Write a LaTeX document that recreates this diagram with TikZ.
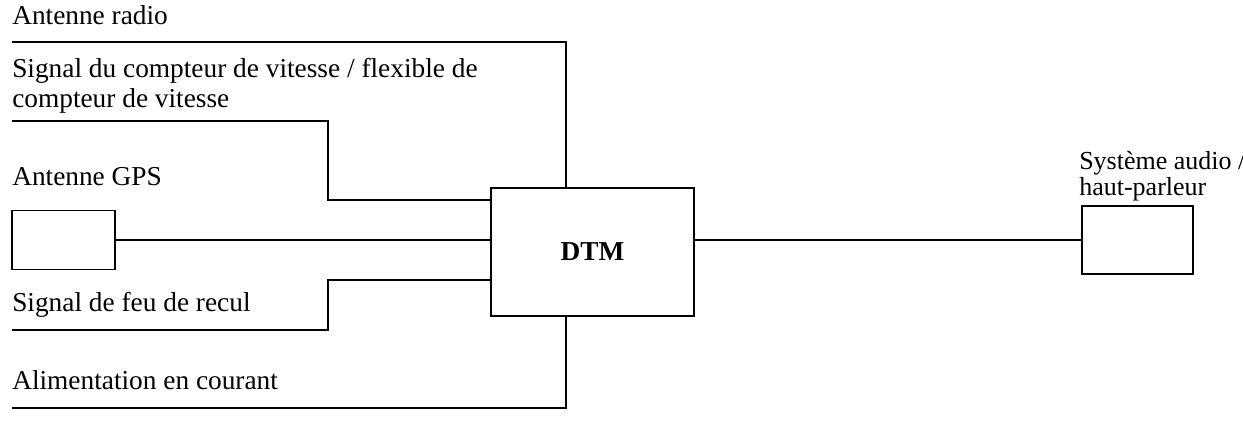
\documentclass[tikz,border=0pt]{standalone}
\usepackage{fontspec}
\setmainfont{Liberation Serif}
\begin{document}
\begin{tikzpicture}[x=0.75pt,y=-0.75pt,
  lbl/.style={anchor=base west,inner sep=0pt,font=\fontsize{20.5}{31}\selectfont,align=left},
  ln/.style={line width=0.9pt},
  bx/.style={draw,line width=0.9pt}]
\useasboundingbox (0,0) rectangle (1243,445);
\node[bx,minimum width=203*0.75pt,minimum height=128*0.75pt,inner sep=0pt,font=\fontsize{20.5}{24}\selectfont\bfseries] (dtm) at (592.5,252) {DTM};
\node[bx,minimum width=103*0.75pt,minimum height=59*0.75pt,inner sep=0pt] (gps) at (63.5,240) {};
\node[bx,minimum width=111*0.75pt,minimum height=68*0.75pt,inner sep=0pt] (spk) at (1137.5,240) {};
\node[lbl] (t1) at (12,25) {Antenne radio};
\node[lbl] (t2) at (12,78) {Signal du compteur de vitesse / flexible de};
\node[lbl] (t2b) at (12,108) {compteur de vitesse};
\node[lbl] (t3) at (12,186) {Antenne GPS};
\node[lbl] (t4) at (12,312) {Signal de feu de recul};
\node[lbl] (t5) at (12,390) {Alimentation en courant};
\node[lbl,font=\fontsize{19.5}{26}\selectfont] (t6) at (1079,170) {Système audio /};
\node[lbl,font=\fontsize{19.5}{26}\selectfont] (t6b) at (1079,196) {haut-parleur};
\coordinate (a1) at (12,42);
\coordinate (a2) at (12,121);
\coordinate (a3) at (12,330);
\coordinate (a4) at (12,408);
\draw[ln] (a1) -| (dtm.north -| 566,0);
\draw[ln] (a2) -| (328,200) -- (dtm.west |- 0,200);
\draw[ln] (gps.east) -- (gps.east -| dtm.west);
\draw[ln] (a3) -| (328,280) -- (dtm.west |- 0,280);
\draw[ln] (a4) -| (dtm.south -| 566,0);
\draw[ln] (dtm.east |- spk.west) -- (spk.west);
\end{tikzpicture}
\end{document}
